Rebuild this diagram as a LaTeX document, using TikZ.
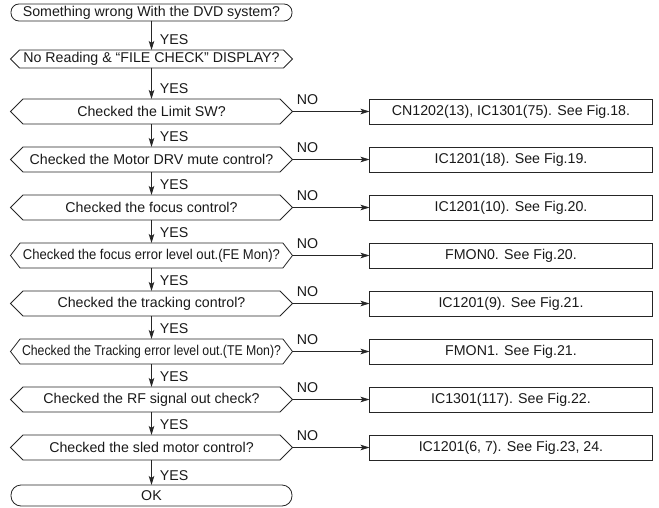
\documentclass[tikz,border=0pt]{standalone}
\usepackage{fontspec}
\setmainfont{Liberation Sans}
\usepackage{graphicx}
\usetikzlibrary{arrows.meta,positioning,shapes.symbols}
\tikzset{
  chkfont/.style={font=\fontsize{14.2pt}{16pt}\selectfont, text=black!90},
  chkstart/.style={rectangle, rounded corners=8pt, draw=black!85, line width=0.8pt, minimum width=281pt, minimum height=17pt, inner sep=0pt, outer sep=0pt, chkfont},
  chkhex/.style={signal, signal to=west and east, draw=black!85, line width=0.8pt, minimum width=282pt, minimum height=25pt, inner sep=0pt, outer sep=0pt, chkfont},
  chkhexlong/.style={chkhex, signal pointer angle=105},
  chkres/.style={rectangle, draw=black!85, line width=0.8pt, minimum width=283pt, minimum height=25pt, inner sep=0pt, outer sep=0pt, chkfont},
  chkarrow/.style={-{Stealth[length=9pt,width=5.5pt,inset=2pt]}, line width=0.8pt, draw=black!85},
  yeslabel/.style={pos=1, anchor=base west, xshift=8pt, yshift=5pt, inner sep=0pt, chkfont},
  nolabel/.style={pos=0, anchor=base west, xshift=4pt, yshift=7pt, inner sep=0pt, chkfont}
}

\begin{document}
\begin{tikzpicture}[node distance=23pt]
\useasboundingbox (0,0) rectangle (659pt,-508pt);
\node[chkstart] (start) at (151.5pt,-12.5pt) {Something wrong With the DVD system?};
\node[chkhex, minimum height=18pt, below=29pt of start] (read) {No Reading \& “FILE CHECK” DISPLAY?};
\node[chkhex, below=31pt of read] (limit) {Checked the Limit SW?};
\node[chkhex, below=of limit] (motor) {Checked the Motor DRV mute control?};
\node[chkhex, below=of motor] (focus) {Checked the focus control?};
\node[chkhexlong, below=of focus] (femon) {\scalebox{0.92}[1]{Checked the focus error level out.(FE Mon)?}};
\node[chkhex, below=of femon] (track) {Checked the tracking control?};
\node[chkhexlong, below=of track] (temon) {\scalebox{0.865}[1]{Checked the Tracking error level out.(TE Mon)?}};
\node[chkhex, below=of temon] (rf) {Checked the RF signal out check?};
\node[chkhex, below=of rf] (sled) {Checked the sled motor control?};
\node[chkstart, rounded corners=10pt, minimum height=21pt, below=25pt of sled] (ok) {OK};
% results on the NO side
\node[chkres, right=77pt of limit] (limitres) {CN1202(13), IC1301(75). See Fig.18.};
\node[chkres, right=77pt of motor] (motorres) {IC1201(18). See Fig.19.};
\node[chkres, right=77pt of focus] (focusres) {IC1201(10). See Fig.20.};
\node[chkres, right=77pt of femon] (femonres) {FMON0. See Fig.20.};
\node[chkres, right=77pt of track] (trackres) {IC1201(9). See Fig.21.};
\node[chkres, right=77pt of temon] (temonres) {FMON1. See Fig.21.};
\node[chkres, right=77pt of rf] (rfres) {IC1301(117). See Fig.22.};
\node[chkres, right=77pt of sled] (sledres) {IC1201(6, 7). See Fig.23, 24.};
% YES path
\draw[chkarrow] (start) -- node[yeslabel] {YES} (read);
\draw[chkarrow] (read) -- node[yeslabel] {YES} (limit);
\draw[chkarrow] (limit) -- node[yeslabel] {YES} (motor);
\draw[chkarrow] (motor) -- node[yeslabel] {YES} (focus);
\draw[chkarrow] (focus) -- node[yeslabel] {YES} (femon);
\draw[chkarrow] (femon) -- node[yeslabel] {YES} (track);
\draw[chkarrow] (track) -- node[yeslabel] {YES} (temon);
\draw[chkarrow] (temon) -- node[yeslabel] {YES} (rf);
\draw[chkarrow] (rf) -- node[yeslabel] {YES} (sled);
\draw[chkarrow] (sled) -- node[yeslabel] {YES} (ok);
% NO path
\draw[chkarrow] (limit) -- node[nolabel] {NO} (limitres);
\draw[chkarrow] (motor) -- node[nolabel] {NO} (motorres);
\draw[chkarrow] (focus) -- node[nolabel] {NO} (focusres);
\draw[chkarrow] (femon) -- node[nolabel] {NO} (femonres);
\draw[chkarrow] (track) -- node[nolabel] {NO} (trackres);
\draw[chkarrow] (temon) -- node[nolabel] {NO} (temonres);
\draw[chkarrow] (rf) -- node[nolabel] {NO} (rfres);
\draw[chkarrow] (sled) -- node[nolabel] {NO} (sledres);
\end{tikzpicture}
\end{document}
